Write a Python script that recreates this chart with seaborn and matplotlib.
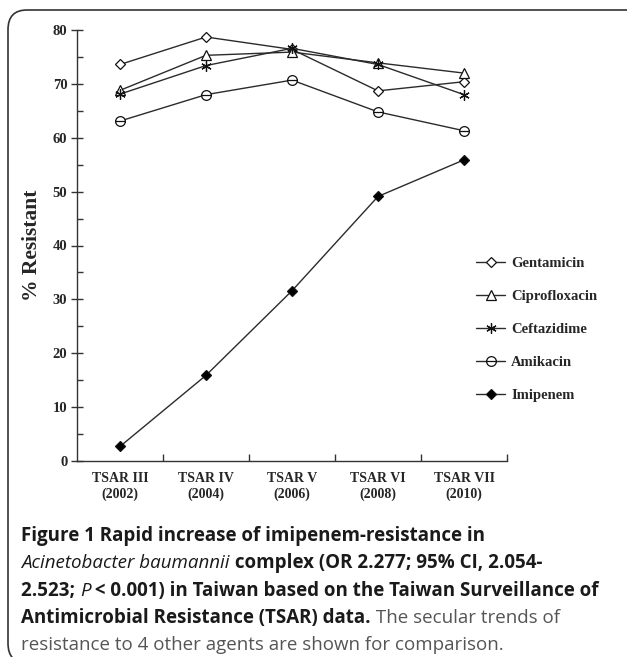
import matplotlib
matplotlib.use("Agg")
import matplotlib.pyplot as plt
from matplotlib.path import Path
from matplotlib.patches import FancyBboxPatch
from matplotlib.ticker import MultipleLocator
import seaborn as sns

# data
periods = ["TSAR III\n(2002)", "TSAR IV\n(2004)", "TSAR V\n(2006)", "TSAR VI\n(2008)", "TSAR VII\n(2010)"]
agents = ["Gentamicin", "Ciprofloxacin", "Ceftazidime", "Amikacin", "Imipenem"]
gentamicin = [73.6, 78.7, 76.4, 68.7, 70.4]
ciprofloxacin = [68.8, 75.3, 75.9, 73.9, 72.0]
ceftazidime = [68.1, 73.4, 76.6, 73.6, 68.0]
amikacin = [63.1, 68.0, 70.7, 64.8, 61.3]
imipenem = [2.7, 15.9, 31.6, 49.1, 55.9]

# circle with a bar through it (Amikacin)
circ = Path.unit_circle()
bar = Path([[-1, 0], [1, 0]], [Path.MOVETO, Path.LINETO])
circle_bar = Path.make_compound_path(circ, bar)

styles = {
    "Gentamicin": dict(marker="D", ms=5.5, mfc="white"),
    "Ciprofloxacin": dict(marker="^", ms=7, mfc="white"),
    "Ceftazidime": dict(marker=(6, 2, 0), ms=7.5, mfc="white"),
    "Amikacin": dict(marker=circle_bar, ms=7, mfc="white"),
    "Imipenem": dict(marker="D", ms=5.5, mfc="black"),
}
series = [gentamicin, ciprofloxacin, ceftazidime, amikacin, imipenem]

sns.set_theme(style="ticks")
plt.rcParams["font.family"] = ["Liberation Serif", "DejaVu Serif"]

fig = plt.figure(figsize=(6.27, 6.57), dpi=100)
ax = fig.add_axes([77 / 627, 1 - 461 / 657, 430 / 627, 431 / 657])

line_col = "#2b2b2b"
for name, vals in zip(agents, series):
    st = styles[name]
    sns.lineplot(x=periods, y=vals, ax=ax, color=line_col, linewidth=1.0,
                 marker=st["marker"], markersize=st["ms"],
                 markerfacecolor=st["mfc"], markeredgecolor="#111111",
                 markeredgewidth=0.9, label=name, errorbar=None)

ax.set_xlim(-0.5, 4.5)
ax.set_ylim(0, 80)
ax.yaxis.set_major_locator(MultipleLocator(10))
ax.yaxis.set_minor_locator(MultipleLocator(5))
ax.set_xticks([x - 0.5 for x in range(1, 6)], minor=True)
ax.set_xticks(range(5))
ax.set_xticklabels(periods, fontweight="bold", fontsize=10, linespacing=1.25)
ax.tick_params(axis="x", which="major", length=0, pad=8)
ax.tick_params(axis="x", which="minor", direction="in", length=5, width=1, color="#333333")
ax.tick_params(axis="y", which="major", direction="inout", length=8, width=1,
               color="#333333", labelsize=10.5, pad=3)
ax.tick_params(axis="y", which="minor", direction="in", length=4, width=1, color="#333333")
for lab in ax.get_yticklabels():
    lab.set_fontweight("bold")
sns.despine(ax=ax)
for sp in ["left", "bottom"]:
    ax.spines[sp].set_color("#333333")
    ax.spines[sp].set_linewidth(1.0)

ax.set_xlabel("")
ax.set_ylabel("% Resistant", fontsize=15.5, fontweight="bold")
ax.yaxis.set_label_coords((42 - 77) / 430, (461 - 245) / 431)

ax.legend(loc="upper left", bbox_to_anchor=(476 / 627, 1 - 257 / 657),
          bbox_transform=fig.transFigure, frameon=False, handlelength=2.0,
          handletextpad=0.4, labelspacing=1.35, borderpad=0, borderaxespad=0,
          prop={"weight": "bold", "size": 10.5})

# rounded frame round chart and caption (right and bottom edges run off the picture)
frame = FancyBboxPatch((8 / 627, -6 / 657), 680 / 627, 653 / 657,
                       boxstyle="round,pad=0,rounding_size=0.03",
                       transform=fig.transFigure, fill=False,
                       edgecolor="#333333", linewidth=1.2, clip_on=False)
fig.patches.append(frame)

# caption, written piece by piece so bold, italic and plain can mix
cap_font = ["Open Sans", "DejaVu Sans"]
cap_size = 13.5
dark = "#1a1a1a"
grey = "#555555"
caption = [
    [("Figure 1 Rapid increase of imipenem-resistance in", "bold", "normal", dark)],
    [("Acinetobacter baumannii", "normal", "italic", dark),
     (" complex (OR 2.277; 95% CI, 2.054-", "bold", "normal", dark)],
    [("2.523; ", "bold", "normal", dark), ("P", "normal", "italic", dark),
     (" < 0.001) in Taiwan based on the Taiwan Surveillance of", "bold", "normal", dark)],
    [("Antimicrobial Resistance (TSAR) data.", "bold", "normal", dark),
     (" The secular trends of", "normal", "normal", grey)],
    [("resistance to 4 other agents are shown for comparison.", "normal", "normal", grey)],
]
renderer = fig.canvas.get_renderer()
y_px = 536
for line in caption:
    x_px = 21
    for txt, weight, style, col in line:
        t = fig.text(x_px / 627, 1 - y_px / 657, txt, family=cap_font, size=cap_size,
                     weight=weight, style=style, color=col, va="center", ha="left")
        bb = t.get_window_extent(renderer=renderer)
        x_px += bb.width
    y_px += 27.3

fig.savefig("out.png", dpi=100)
